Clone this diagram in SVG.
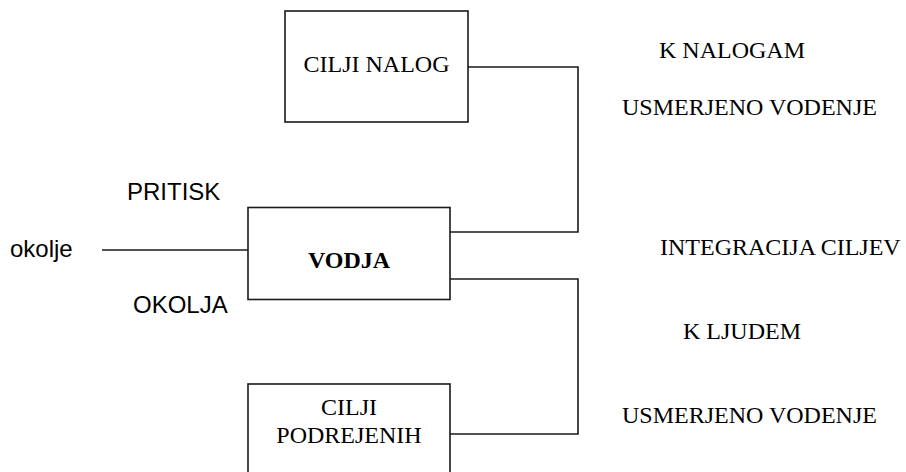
<svg xmlns="http://www.w3.org/2000/svg" width="906" height="472" viewBox="0 0 906 472">
  <style>
    .box { fill: #ffffff; stroke: #1a1a1a; stroke-width: 1.6; }
    .wire { fill: none; stroke: #1a1a1a; stroke-width: 1.6; }
    .serif { font-family: "Liberation Serif", "Times New Roman", serif; font-size: 24px; fill: #000; }
    .sans { font-family: "Liberation Sans", Arial, sans-serif; font-size: 24px; fill: #000; }
    .mid { text-anchor: middle; }
    .bold { font-weight: bold; }
  </style>
  <rect width="906" height="472" fill="#ffffff"/>

  <!-- connectors -->
  <g id="connectors">
    <polyline class="wire" points="468,67 578,67 578,232 450,232"/>
    <polyline class="wire" points="450,279 578,279 578,434 450,434"/>
    <line class="wire" x1="102" y1="250" x2="248" y2="250"/>
  </g>

  <!-- nodes -->
  <g id="cilji-nalog">
    <rect class="box" x="285" y="11" width="183" height="111"/>
    <text class="serif mid" x="376.5" y="72">CILJI NALOG</text>
  </g>

  <g id="vodja">
    <rect class="box" x="248" y="207.5" width="202" height="92"/>
    <text class="serif mid bold" x="349" y="268">VODJA</text>
  </g>

  <g id="cilji-podrejenih">
    <rect class="box" x="248" y="384" width="202" height="100"/>
    <text class="serif mid" x="349" y="415">CILJI</text>
    <text class="serif mid" x="349" y="443">PODREJENIH</text>
  </g>

  <!-- environment labels -->
  <g id="okolje">
    <text class="sans" x="10" y="257">okolje</text>
  </g>
  <g id="pritisk-okolja">
    <text class="sans" x="127" y="200">PRITISK</text>
    <text class="sans" x="133" y="313">OKOLJA</text>
  </g>

  <!-- orientation labels -->
  <g id="labels-right">
    <text class="serif" x="659" y="58">K NALOGAM</text>
    <text class="serif" x="622" y="115">USMERJENO VODENJE</text>
    <text class="serif" x="660" y="255">INTEGRACIJA CILJEV</text>
    <text class="serif" x="683" y="339">K LJUDEM</text>
    <text class="serif" x="622" y="423">USMERJENO VODENJE</text>
  </g>
</svg>
